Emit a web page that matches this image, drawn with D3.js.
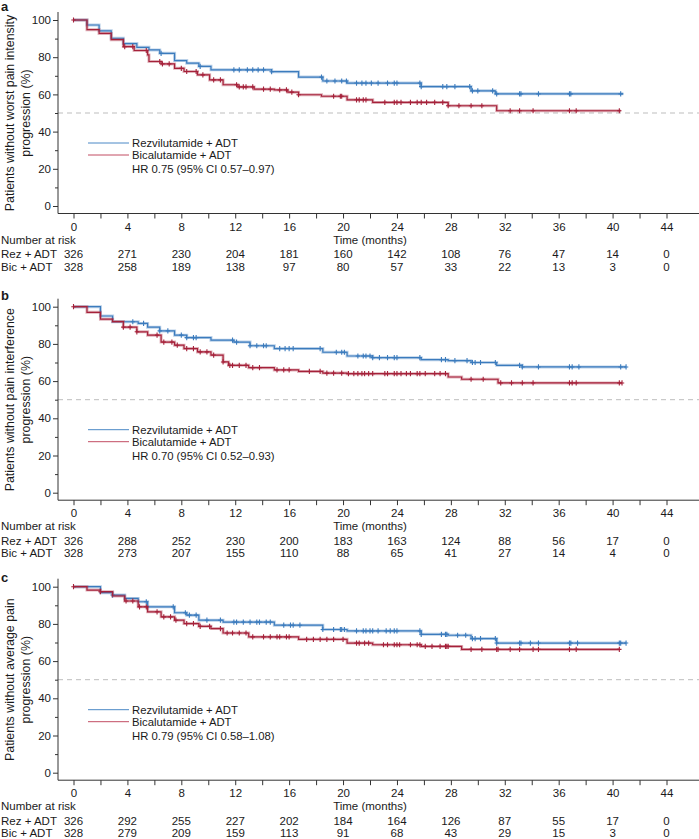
<!DOCTYPE html>
<html>
<head>
<meta charset="utf-8">
<script src="https://cdn.jsdelivr.net/npm/d3@7/dist/d3.min.js"></script>
<style>
  html, body { margin: 0; padding: 0; background: #fff; }
  svg { display: block; }
  text { font-family: "Liberation Sans", Arial, sans-serif; fill: #1a1a1a; }
</style>
</head>
<body>
<svg id="chart" width="699" height="839"></svg>
<script>
// ---------------- DATA ----------------
const panelLetters = ["a", "b", "c"];
const yTitles = [
  ["Patients without worst pain intensity", "progression (%)"],
  ["Patients without pain interference", "progression (%)"],
  ["Patients without average pain", "progression (%)"]
];
const hrTexts = [
  "HR 0.75 (95% CI 0.57\u20130.97)",
  "HR 0.70 (95% CI 0.52\u20130.93)",
  "HR 0.79 (95% CI 0.58\u20131.08)"
];
const seriesNames = ["Rezvilutamide + ADT", "Bicalutamide + ADT"];
const riskLabels = ["Rez + ADT", "Bic + ADT"];
const xTickLabels = [0, 4, 8, 12, 16, 20, 24, 28, 32, 36, 40, 44];
const yTickLabels = [0, 20, 40, 60, 80, 100];

// Panel a – worst pain intensity
const aRezTimes = [0, 1.0, 1.9, 2.8, 3.7, 4.7, 5.6, 6.4, 7.5, 8.4, 9.3, 10.2, 14.7, 16.7, 18.5, 20.3, 25.8, 29.5, 31.3];
const aRezSurv  = [100, 97.3, 94.2, 90.2, 87.3, 85.3, 83.9, 82.1, 78.2, 76.8, 75.1, 73.2, 72.2, 69.3, 67.2, 66.1, 64.2, 61.9, 60.3];
const aRezEnd = 40.8;
const aRezCens = [6.5, 9.4, 11.9, 12.3, 12.9, 13.3, 13.7, 14.1, 14.7, 18.4, 18.8, 19.4, 19.9, 20.25, 21.0, 21.4, 21.7, 22.1, 22.6, 23.3, 23.8, 24.0, 25.7, 25.8, 27.4, 27.7, 28.3, 29.4, 29.6, 30.0, 31.1, 31.4, 33.1, 33.2, 34.5, 36.8, 36.9, 40.6];
const aBicTimes = [0, 1.0, 1.9, 2.8, 3.7, 4.5, 5.5, 5.6, 6.5, 7.5, 8.2, 9.2, 10.1, 11.1, 12.2, 13.4, 14.9, 15.9, 16.7, 18.4, 20.3, 22.2, 27.8, 31.4];
const aBicSurv  = [100, 94.8, 92.8, 89.4, 85.7, 83.6, 81.2, 77.7, 76.4, 74.0, 72.3, 70.5, 67.8, 65.2, 64.0, 62.8, 62.4, 61.2, 59.8, 59.0, 57.1, 55.7, 53.9, 51.2];
const aBicEnd = 40.6;
const aBicCens = [0, 3.8, 4.4, 5.4, 6.4, 6.6, 7.1, 8.0, 8.4, 9.1, 9.6, 10.4, 10.9, 12.1, 12.3, 12.6, 12.8, 13.3, 14.1, 14.6, 15.3, 15.8, 16.2, 16.7, 19.3, 19.8, 19.9, 21.0, 21.2, 21.5, 21.7, 23.1, 23.8, 24.0, 24.3, 25.0, 25.5, 25.8, 26.2, 26.8, 27.4, 27.8, 28.6, 29.5, 30.3, 32.4, 33.1, 34.1, 36.8, 37.3, 40.5];
const aRiskRez = [326, 271, 230, 204, 181, 160, 142, 108, 76, 47, 14, 0];
const aRiskBic = [328, 258, 189, 138, 97, 80, 57, 33, 22, 13, 3, 0];

// Panel b – pain interference
const bRezTimes = [0, 2.0, 2.9, 4.8, 5.5, 6.4, 7.5, 8.4, 10.2, 11.9, 13.1, 14.9, 18.5, 20.3, 22.2, 25.8, 27.8, 29.5, 31.4, 33.3];
const bRezSurv  = [100, 95.0, 91.9, 91.0, 89.0, 87.0, 84.7, 83.4, 82.0, 81.0, 79.0, 77.5, 75.5, 73.5, 72.6, 71.5, 71.0, 70.0, 68.5, 67.6];
const bRezEnd = 41.0;
const bRezCens = [4.4, 5.2, 6.4, 7.0, 8.0, 8.4, 8.9, 9.1, 11.8, 12.1, 13.1, 13.6, 14.1, 14.3, 15.3, 15.7, 16.0, 16.3, 18.3, 19.5, 19.9, 20.1, 21.1, 21.5, 21.7, 22.0, 22.2, 22.7, 23.3, 23.8, 24.0, 25.7, 27.3, 27.6, 28.3, 29.2, 29.6, 29.8, 30.2, 31.3, 33.1, 33.3, 34.5, 36.8, 37.0, 37.5, 40.6, 41.0];
const bBicTimes = [0, 1.0, 2.0, 2.9, 3.7, 4.7, 5.5, 6.5, 7.5, 8.2, 9.2, 10.2, 11.1, 11.5, 13.0, 14.9, 16.7, 18.5, 20.3, 27.8, 28.8, 31.5];
const bBicSurv  = [100, 97.0, 93.3, 92.0, 89.0, 86.5, 84.7, 81.0, 79.3, 77.5, 75.7, 74.0, 70.3, 68.5, 67.2, 66.0, 65.2, 64.3, 64.0, 62.2, 61.0, 59.0];
const bBicEnd = 40.7;
const bBicCens = [0, 3.7, 4.2, 4.7, 6.2, 6.7, 7.3, 7.7, 8.4, 8.9, 9.4, 9.9, 10.4, 11.1, 11.6, 11.8, 12.3, 12.8, 13.3, 13.8, 15.1, 15.6, 16.0, 17.5, 18.3, 18.8, 19.3, 19.9, 20.4, 20.8, 21.1, 21.4, 21.6, 21.9, 22.2, 23.1, 23.3, 23.8, 24.0, 24.3, 24.7, 25.0, 25.5, 25.7, 26.1, 26.8, 27.2, 27.6, 29.5, 30.4, 31.7, 32.5, 33.3, 34.1, 36.8, 37.0, 37.3, 40.5, 40.7];
const bRiskRez = [326, 288, 252, 230, 200, 183, 163, 124, 88, 56, 17, 0];
const bRiskBic = [328, 273, 207, 155, 110, 88, 65, 41, 27, 14, 4, 0];

// Panel c – average pain
const cRezTimes = [0, 2.0, 2.9, 3.8, 4.8, 5.5, 7.5, 8.4, 9.3, 11.1, 14.9, 18.5, 20.3, 25.8, 27.8, 29.5, 31.4];
const cRezSurv  = [100, 96.8, 95.5, 93.7, 91.9, 89.2, 86.0, 84.7, 82.0, 81.0, 79.3, 77.0, 76.2, 74.4, 73.9, 72.1, 69.7];
const cRezEnd = 41.0;
const cRezCens = [2.9, 5.4, 7.4, 8.3, 8.6, 9.1, 9.9, 10.9, 11.9, 12.1, 12.6, 13.1, 13.6, 13.8, 14.3, 14.6, 15.6, 16.1, 16.3, 16.8, 18.5, 19.3, 19.8, 19.9, 20.1, 21.0, 21.5, 21.7, 22.0, 22.2, 22.6, 23.2, 23.5, 23.8, 24.0, 25.7, 25.8, 27.3, 27.6, 27.7, 28.5, 29.1, 29.6, 29.8, 30.2, 31.3, 31.4, 33.1, 33.2, 33.9, 34.5, 36.8, 36.9, 37.4, 40.5, 40.6, 41.0];
const cBicTimes = [0, 1.0, 2.0, 2.9, 3.8, 4.8, 5.5, 6.5, 7.5, 8.2, 9.3, 10.2, 11.1, 13.0, 16.7, 20.3, 22.2, 25.8, 28.8];
const cBicSurv  = [100, 98.2, 97.3, 95.0, 92.3, 89.2, 86.5, 83.8, 82.0, 80.2, 78.7, 77.5, 75.1, 73.0, 71.7, 69.7, 68.8, 67.9, 66.3];
const cBicEnd = 40.5;
const cBicCens = [0, 2.0, 3.9, 4.4, 4.9, 5.4, 6.2, 6.7, 7.2, 7.6, 8.4, 8.9, 9.4, 10.1, 10.9, 11.4, 11.8, 12.3, 12.8, 13.3, 14.1, 14.6, 15.1, 15.3, 15.8, 16.0, 17.3, 17.8, 18.3, 18.8, 19.3, 20.0, 21.0, 21.2, 21.6, 21.9, 23.0, 23.3, 23.8, 24.0, 24.2, 25.0, 25.5, 25.7, 26.1, 26.6, 27.2, 27.6, 27.7, 27.8, 29.5, 30.3, 31.4, 31.5, 32.4, 33.1, 34.1, 34.5, 36.8, 37.3, 40.5];
const cRiskRez = [326, 292, 255, 227, 202, 184, 164, 126, 87, 55, 17, 0];
const cRiskBic = [328, 279, 209, 159, 113, 91, 68, 43, 29, 15, 3, 0];

// ---------------- BUILD ----------------
const panels = [
  { rez: { t: aRezTimes, s: aRezSurv, end: aRezEnd, c: aRezCens }, bic: { t: aBicTimes, s: aBicSurv, end: aBicEnd, c: aBicCens }, risk: [aRiskRez, aRiskBic] },
  { rez: { t: bRezTimes, s: bRezSurv, end: bRezEnd, c: bRezCens }, bic: { t: bBicTimes, s: bBicSurv, end: bBicEnd, c: bBicCens }, risk: [bRiskRez, bRiskBic] },
  { rez: { t: cRezTimes, s: cRezSurv, end: cRezEnd, c: cRezCens }, bic: { t: cBicTimes, s: cBicSurv, end: cBicEnd, c: cBicCens }, risk: [cRiskRez, cRiskBic] }
];
const panelOffsets = [0, 286.7, 566.7];
const letterBaselines = [10.5, 299.5, 581.5];
const colors = ["#3b7bbd", "#a5213a"];
const legendColors = ["#4a88c6", "#c24d63"];

const svg = d3.select("#chart");
const x = d3.scaleLinear().domain([0, 44]).range([73.5, 666.5]);
const axisX0 = 58;

panels.forEach((p, i) => {
  const off = panelOffsets[i];
  const g = svg.append("g").attr("transform", `translate(0,${off})`);
  const y = d3.scaleLinear().domain([0, 100]).range([206, 20]);
  const axisYpos = 213.5;

  // panel letter
  svg.append("text").attr("x", 1).attr("y", letterBaselines[i])
    .attr("font-size", 13).attr("font-weight", "bold").text(panelLetters[i]);

  // y title
  const yc = (y(0) + y(100)) / 2;
  yTitles[i].forEach((line, k) => {
    g.append("text")
      .attr("transform", `translate(${13.5 + k * 16.5},${yc}) rotate(-90)`)
      .attr("text-anchor", "middle").attr("font-size", 12.4).text(line);
  });

  // 50% dashed reference
  g.append("line").attr("x1", axisX0).attr("x2", 699)
    .attr("y1", y(50)).attr("y2", y(50))
    .attr("stroke", "#bdbdbd").attr("stroke-width", 1).attr("stroke-dasharray", "5,4");

  // y axis: major + minor ticks
  const yMinor = d3.axisLeft(y).tickValues([10, 30, 50, 70, 90]).tickSize(3).tickFormat("");
  const yMajor = d3.axisLeft(y).tickValues(yTickLabels).tickSize(5).tickPadding(2);
  const ga = g.append("g").attr("transform", `translate(${axisX0},0)`).call(yMajor);
  g.append("g").attr("transform", `translate(${axisX0},0)`).call(yMinor).select(".domain").remove();
  ga.select(".domain").attr("d", `M0,12V${axisYpos}`);
  ga.selectAll("text").attr("font-size", 11.5).style("font-family", '"Liberation Sans", Arial, sans-serif').attr("fill", "#1a1a1a");

  // x axis
  const xAxis = d3.axisBottom(x).tickValues(d3.range(0, 45, 2)).tickSize(5).tickPadding(4)
    .tickFormat(d => xTickLabels.includes(d) ? d : "");
  const gx = g.append("g").attr("transform", `translate(0,${axisYpos})`).call(xAxis);
  gx.select(".domain").attr("d", `M${axisX0},0H699`);
  gx.selectAll("text").attr("font-size", 11.5).style("font-family", '"Liberation Sans", Arial, sans-serif').attr("fill", "#1a1a1a");
  g.selectAll(".domain, .tick line").attr("stroke", "#333");

  // curves
  const line = d3.line().x(d => x(d[0])).y(d => y(d[1])).curve(d3.curveStepAfter);
  [p.rez, p.bic].forEach((sr, k) => {
    const pts = sr.t.map((t, j) => [t, sr.s[j]]);
    pts.push([sr.end, sr.s[sr.s.length - 1]]);
    g.append("path").datum(pts).attr("d", line).attr("fill", "none")
      .attr("stroke", colors[k]).attr("stroke-opacity", 0.35).attr("stroke-width", 3);
    g.append("path").datum(pts).attr("d", line).attr("fill", "none")
      .attr("stroke", colors[k]).attr("stroke-width", 1.2);
    // censor marks
    const survAt = t => {
      let v = sr.s[0];
      for (let j = 0; j < sr.t.length; j++) { if (sr.t[j] <= t) v = sr.s[j]; }
      return v;
    };
    g.append("g").selectAll("path").data(sr.c).join("path")
      .attr("d", t => {
        const cx = x(t), cy = y(survAt(t));
        return `M${cx},${cy - 2.6}V${cy + 2.6}M${cx - 2.2},${cy}H${cx + 2.2}`;
      })
      .attr("stroke", colors[k]).attr("stroke-width", 1.1);
  });

  // legend
  const legY = [143, 155];
  seriesNames.forEach((nm, k) => {
    g.append("line").attr("x1", 88).attr("x2", 129).attr("y1", legY[k]).attr("y2", legY[k])
      .attr("stroke", legendColors[k]).attr("stroke-width", 1);
    g.append("text").attr("x", 132).attr("y", legY[k]).attr("dy", "0.35em")
      .attr("font-size", 11.3).text(nm);
  });
  g.append("text").attr("x", 132).attr("y", 169.5).attr("dy", "0.35em")
    .attr("font-size", 11.3).text(hrTexts[i]);

  // number at risk
  g.append("text").attr("x", 1).attr("y", 239.5).attr("dy", "0.35em").attr("font-size", 11.5).text("Number at risk");
  g.append("text").attr("x", x(22)).attr("y", 239.5).attr("dy", "0.35em").attr("text-anchor", "middle")
    .attr("font-size", 11.5).text("Time (months)");
  const rowY = [254, 266.5];
  p.risk.forEach((vals, k) => {
    g.append("text").attr("x", 1).attr("y", rowY[k]).attr("dy", "0.35em").attr("font-size", 11.5).text(riskLabels[k]);
    g.append("g").selectAll("text").data(vals).join("text")
      .attr("x", (d, j) => x(xTickLabels[j]))
      .attr("y", rowY[k]).attr("dy", "0.35em").attr("text-anchor", "middle")
      .attr("font-size", 11.5).text(d => d);
  });
});
</script>
</body>
</html>
